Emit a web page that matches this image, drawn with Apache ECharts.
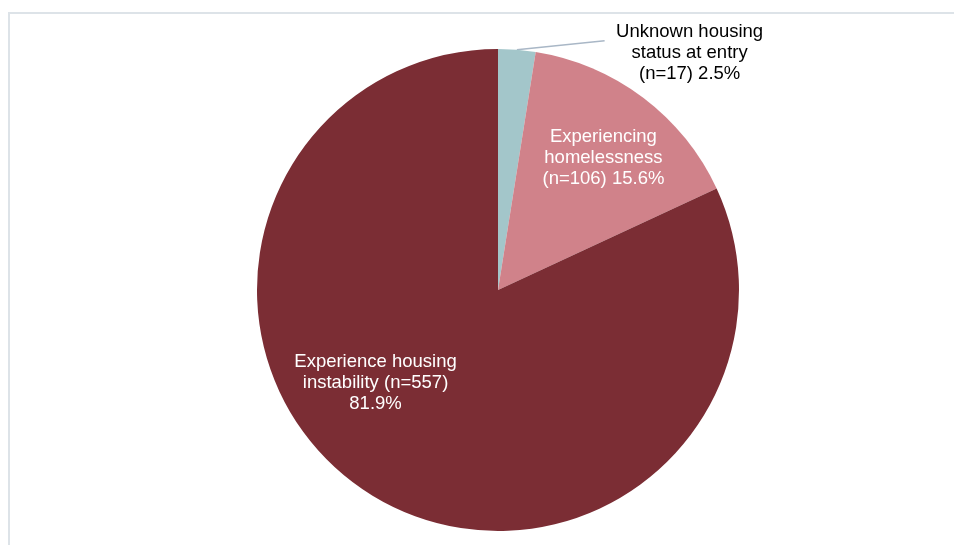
<!DOCTYPE html>
<html>
<head>
<meta charset="utf-8">
<script src="https://cdn.jsdelivr.net/npm/echarts@6/dist/echarts.min.js"></script>
<style>
  html, body { margin: 0; padding: 0; background: #ffffff; }
  #chart { width: 954px; height: 545px; }
</style>
</head>
<body>
<div id="chart"></div>
<script>
// Housing status at program entry
const categories = [
  'Unknown housing\nstatus at entry',
  'Experiencing\nhomelessness',
  'Experience housing\ninstability'
];
const counts = [17, 106, 557];
const sliceColors = ['#a3c6ca', '#d0828a', '#7b2d34'];

const total = counts.reduce((a, b) => a + b, 0);
const pct = v => (v / total * 100).toFixed(1) + '%';

const FONT = 'Liberation Sans, Arial, sans-serif';
const FONT_SIZE = 18.5;

// Label text for each slice
const labelText = [
  i => categories[i].split('\n').map(s => '{c|' + s + '}').join('\n') +
       '\n{c|(n=' + counts[i] + ') ' + pct(counts[i]) + '}',
  i => categories[i] + '\n(n=' + counts[i] + ') ' + pct(counts[i]),
  i => categories[i].split('\n')[0] + '\n' + categories[i].split('\n')[1] +
       ' (n=' + counts[i] + ')\n' + pct(counts[i])
];

// Nudges for the inside labels, relative to their default spot
const labelShift = [[0, 0], [31, -34], [-56, -11]];

const chart = echarts.init(document.getElementById('chart'), null, { renderer: 'canvas' });

const seriesData = counts.map((v, i) => {
  const item = {
    name: categories[i],
    value: v,
    itemStyle: { color: sliceColors[i] }
  };
  if (i === 0) {
    item.label = {
      position: 'outside',
      color: '#000000',
      fontSize: FONT_SIZE,
      fontFamily: FONT,
      padding: [24, 0, 0, 0],
      formatter: () => labelText[0](0),
      rich: {
        c: { width: 160, align: 'center', fontSize: FONT_SIZE, lineHeight: 21, color: '#000000',
             fontFamily: FONT }
      }
    };
    item.labelLine = {
      show: true,
      length: 9,
      length2: 87,
      lineStyle: { color: '#a9b7c6', width: 1.5 }
    };
  } else {
    item.label = {
      position: 'inside',
      color: '#ffffff',
      fontSize: FONT_SIZE,
      lineHeight: 21,
      align: 'center',
      fontFamily: FONT,
      formatter: () => labelText[i](i)
    };
    item.labelLine = { show: false };
  }
  return item;
});

chart.setOption({
  animation: false,
  backgroundColor: '#ffffff',
  graphic: [{
    type: 'rect',
    silent: true,
    shape: { x: 9, y: 13, width: 1000, height: 600 },
    style: { fill: 'none', stroke: '#dde3e8', lineWidth: 2 }
  }],
  series: [{
    type: 'pie',
    silent: true,
    center: [498, 290],
    radius: 241,
    startAngle: 90,
    clockwise: true,
    avoidLabelOverlap: false,
    itemStyle: { borderWidth: 0 },
    labelLayout: params => {
      const i = params.dataIndex;
      if (i === 0) {
        const pts = params.labelLinePoints;
        if (pts && pts.length === 3) {
          return { labelLinePoints: [pts[0], pts[2], pts[2]] };
        }
        return {};
      }
      return { dx: labelShift[i][0], dy: labelShift[i][1] };
    },
    data: seriesData
  }]
});
</script>
</body>
</html>
